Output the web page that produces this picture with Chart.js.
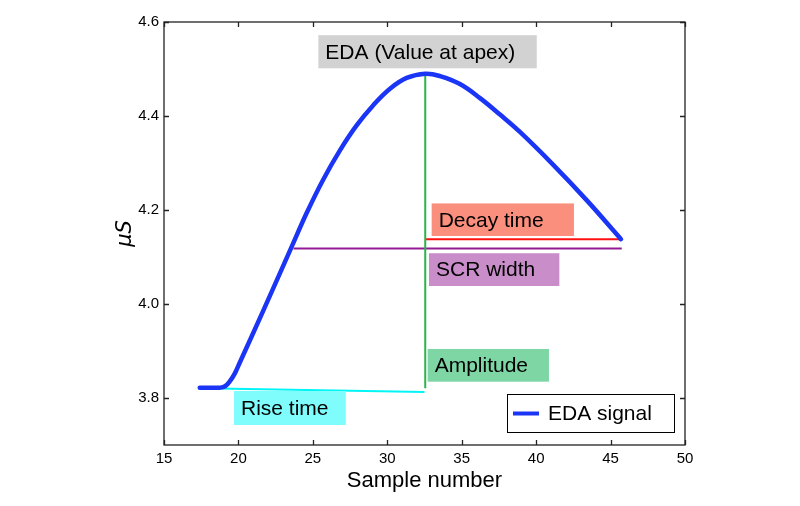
<!DOCTYPE html>
<html><head><meta charset="utf-8">
<script src="https://cdn.jsdelivr.net/npm/chart.js@4/dist/chart.umd.min.js"></script>
<style>html,body{margin:0;padding:0;background:#fff;}</style>
</head><body>
<canvas id="c" width="800" height="506"></canvas>
<script>
// ---- data ----
const sampleX = [17.4, 18.2, 18.76, 19.1, 19.43, 19.77, 20.1, 21.7, 23.58, 24.59, 25.70, 26.82, 27.94, 29.06, 30.18, 31.30, 32.55, 33.54, 34.88, 36.23, 37.57, 38.91, 41.15, 43.39, 45.7];
const edaY    = [3.822, 3.822, 3.822, 3.825, 3.836, 3.853, 3.876, 3.988, 4.122, 4.194, 4.265, 4.327, 4.380, 4.423, 4.458, 4.481, 4.490, 4.485, 4.468, 4.438, 4.403, 4.366, 4.296, 4.221, 4.138];
const xTicks = [15, 20, 25, 30, 35, 40, 45, 50];
const yTicks = [3.8, 4.0, 4.2, 4.4, 4.6];
const amplitudeX = [32.55, 32.55];
const amplitudeY = [3.821, 4.490];
const riseX = [18.6, 32.5];
const riseY = [3.820, 3.813];
const decayX = [32.6, 45.7];
const decayY = [4.138, 4.138];
const widthX = [23.7, 45.75];
const widthY = [4.118, 4.118];
const labelTexts = ['EDA (Value at apex)', 'Decay time', 'SCR width', 'Amplitude', 'Rise time'];

// ---- annotation boxes (data coordinates: left, right, top, bottom) ----
const annotBoxes = [
  {x0: 25.37, x1: 40.04, y0: 4.572, y1: 4.5015, fill: '#d2d2d2'},
  {x0: 32.98, x1: 42.54, y0: 4.214, y1: 4.1447, fill: '#fa8f7d'},
  {x0: 32.80, x1: 41.56, y0: 4.108, y1: 4.0383, fill: '#c98ec9'},
  {x0: 32.71, x1: 40.86, y0: 3.9043, y1: 3.8347, fill: '#7dd6a4'},
  {x0: 19.70, x1: 27.21, y0: 3.8149, y1: 3.7426, fill: '#7ffcfc'}
];

const pts = (xs, ys) => xs.map((x, i) => ({x, y: ys[i]}));

const boxesPlugin = {
  id: 'boxes',
  afterDatasetsDraw(chart) {
    const {ctx, scales: {x, y}} = chart;
    ctx.save();
    annotBoxes.forEach((b, i) => {
      const l = x.getPixelForValue(b.x0), r = x.getPixelForValue(b.x1);
      const t = y.getPixelForValue(b.y0), bt = y.getPixelForValue(b.y1);
      ctx.fillStyle = b.fill;
      ctx.fillRect(l, t, r - l, bt - t);
      ctx.fillStyle = '#000';
      ctx.font = '21px "Liberation Sans", Arial, sans-serif';
      ctx.textBaseline = 'middle';
      ctx.textAlign = 'left';
      ctx.fillText(labelTexts[i], l + 7, (t + bt) / 2 + 1);
    });
    ctx.restore();
  },
  afterDraw(chart) {
    const {ctx, chartArea: ca, scales: {x, y}} = chart;
    ctx.save();
    ctx.strokeStyle = '#222';
    ctx.lineWidth = 1.3;
    ctx.strokeRect(ca.left, ca.top, ca.right - ca.left, ca.bottom - ca.top);
    ctx.beginPath();
    xTicks.forEach(v => {
      const px = Math.round(x.getPixelForValue(v)) + 0.5;
      ctx.moveTo(px, ca.bottom); ctx.lineTo(px, ca.bottom - 5);
      ctx.moveTo(px, ca.top); ctx.lineTo(px, ca.top + 5);
    });
    yTicks.forEach(v => {
      const py = Math.round(y.getPixelForValue(v)) + 0.5;
      ctx.moveTo(ca.left, py); ctx.lineTo(ca.left + 5, py);
      ctx.moveTo(ca.right, py); ctx.lineTo(ca.right - 5, py);
    });
    ctx.stroke();
    // legend
    const ds = chart.data.datasets[0];
    const lw = 167, lh = 38;
    const lx = ca.right - 11 - lw, ly = ca.bottom - 13 - lh;
    ctx.fillStyle = '#fff';
    ctx.fillRect(lx, ly, lw, lh);
    ctx.strokeStyle = '#000';
    ctx.lineWidth = 1;
    ctx.strokeRect(lx + 0.5, ly + 0.5, lw, lh);
    ctx.strokeStyle = ds.borderColor;
    ctx.lineWidth = 4;
    ctx.beginPath();
    ctx.moveTo(lx + 6, ly + 19.5); ctx.lineTo(lx + 32, ly + 19.5);
    ctx.stroke();
    ctx.fillStyle = '#000';
    ctx.font = '21px "Liberation Sans", Arial, sans-serif';
    ctx.textBaseline = 'middle';
    ctx.fillText(ds.label, lx + 41, ly + 20);
    ctx.restore();
  }
};

new Chart(document.getElementById('c'), {
  type: 'line',
  data: {
    datasets: [
      {label: 'EDA signal', data: pts(sampleX, edaY), borderColor: '#1a35f5', borderWidth: 4.5, pointRadius: 0, tension: 0.4, borderCapStyle: 'round', borderJoinStyle: 'round', fill: false, order: 0},
      {label: 'Amplitude', data: pts(amplitudeX, amplitudeY), borderColor: '#2bb34c', borderWidth: 2, pointRadius: 0, order: 1},
      {label: 'Rise time', data: pts(riseX, riseY), borderColor: '#00f5f5', borderWidth: 2, pointRadius: 0, order: 1},
      {label: 'Decay time', data: pts(decayX, decayY), borderColor: '#ff1010', borderWidth: 2, pointRadius: 0, order: 1},
      {label: 'SCR width', data: pts(widthX, widthY), borderColor: '#931a93', borderWidth: 2, pointRadius: 0, order: 1}
    ]
  },
  options: {
    responsive: false,
    animation: false,
    devicePixelRatio: 1,
    layout: {padding: {left: 111, right: 115, top: 22, bottom: 0}},
    plugins: {legend: {display: false}, tooltip: {enabled: false}},
    scales: {
      x: {
        type: 'linear', min: 15, max: 50,
        afterFit: s => { s.height = 61; },
        afterBuildTicks: s => { s.ticks = xTicks.map(v => ({value: v})); },
        grid: {display: false, drawTicks: false},
        border: {display: false},
        ticks: {color: '#000', padding: 5, font: {size: 15, family: '"Liberation Sans", Arial, sans-serif'}, callback: v => String(v)},
        title: {display: true, text: 'Sample number', color: '#000', font: {size: 22, family: '"Liberation Sans", Arial, sans-serif'}, padding: {top: 0, bottom: 12}}
      },
      y: {
        type: 'linear', min: 3.7, max: 4.6,
        afterFit: s => { s.width = 53; },
        afterBuildTicks: s => { s.ticks = yTicks.map(v => ({value: v})); },
        grid: {display: false, drawTicks: false},
        border: {display: false},
        ticks: {color: '#000', padding: 5, font: {size: 15, family: '"Liberation Sans", Arial, sans-serif'}, callback: v => Number(v).toFixed(1)},
        title: {display: true, text: 'μS', color: '#000', font: {size: 21, style: 'italic', family: '"DejaVu Sans", sans-serif'}, padding: {top: 2, bottom: 0}}
      }
    }
  },
  plugins: [boxesPlugin]
});
</script>
</body></html>
